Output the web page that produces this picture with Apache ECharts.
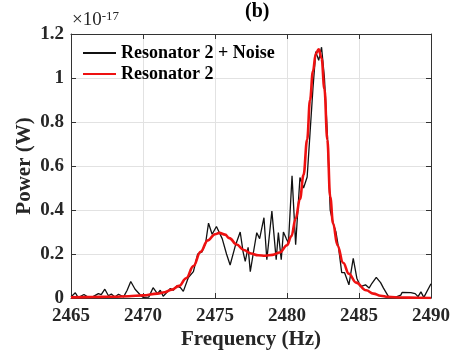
<!DOCTYPE html>
<html>
<head>
<meta charset="utf-8">
<script src="https://cdn.jsdelivr.net/npm/echarts@6/dist/echarts.min.js"></script>
<style>
html,body{margin:0;padding:0;background:#fff;}
#chart{width:453px;height:359px;}
</style>
</head>
<body>
<div id="chart"></div>
<script>
// Data (power in units of 1e-17 W)
const xTicks = [2465, 2470, 2475, 2480, 2485, 2490];
const yTicks = [0, 0.2, 0.4, 0.6, 0.8, 1, 1.2];

const noiseFreq = [2465.0,2465.3,2465.5,2465.9,2466.2,2466.5,2466.9,2467.1,2467.35,2467.6,2467.8,2468.05,2468.3,2468.65,2468.9,2469.15,2469.45,2469.8,2470.0,2470.4,2470.7,2471.0,2471.2,2471.4,2471.65,2471.9,2472.1,2472.35,2472.6,2472.8,2473.15,2473.5,2473.8,2474.1,2474.35,2474.55,2474.8,2475.1,2475.5,2475.8,2476.05,2476.4,2476.75,2476.95,2477.1,2477.3,2477.45,2477.65,2477.9,2478.1,2478.4,2478.6,2478.95,2479.25,2479.4,2479.6,2479.75,2479.95,2480.1,2480.35,2480.6,2480.9,2481.15,2481.4,2481.6,2481.8,2482.0,2482.2,2482.4,2482.6,2482.8,2483.0,2483.2,2483.4,2483.6,2483.8,2484.0,2484.3,2484.6,2484.85,2485.1,2485.45,2485.7,2485.9,2486.2,2486.5,2486.7,2487.05,2487.5,2487.9,2488.0,2488.6,2488.9,2489.1,2489.3,2489.5,2490.0];
const noisePower = [0.005,0.024,0.002,0.016,0.003,0.005,0.02,0.015,0.04,0.01,0.018,0.005,0.017,0.005,0.035,0.075,0.04,0.015,0.003,0.004,0.047,0.02,0.035,0.008,0.025,0.043,0.035,0.055,0.047,0.03,0.093,0.12,0.2,0.21,0.25,0.34,0.29,0.325,0.27,0.2,0.15,0.235,0.30,0.21,0.166,0.23,0.12,0.2,0.297,0.27,0.365,0.174,0.395,0.174,0.297,0.174,0.30,0.27,0.25,0.555,0.242,0.548,0.50,0.55,0.75,0.95,1.12,1.08,1.14,1.0,0.75,0.40,0.34,0.30,0.22,0.115,0.115,0.06,0.18,0.09,0.052,0.06,0.045,0.067,0.094,0.07,0.045,0.006,0.003,0.013,0.026,0.024,0.02,0.006,0.028,0.003,0.065];

const fitFreq = [2465,2466,2467,2468,2469,2470,2471,2471.5,2472,2472.5,2473,2473.5,2474,2474.5,2475,2475.3,2475.7,2476,2476.5,2477,2477.5,2478,2478.5,2479,2479.5,2480,2480.3,2480.6,2480.9,2481.15,2481.4,2481.6,2481.8,2482.0,2482.2,2482.4,2482.6,2482.8,2483.0,2483.2,2483.5,2483.9,2484.3,2484.8,2485.5,2486,2486.5,2487,2488,2489,2490];
const fitPower = [0.003,0.004,0.005,0.006,0.008,0.012,0.02,0.026,0.038,0.055,0.09,0.145,0.21,0.262,0.29,0.296,0.288,0.272,0.243,0.218,0.202,0.194,0.192,0.196,0.207,0.24,0.28,0.36,0.45,0.56,0.72,0.9,1.03,1.11,1.13,1.09,0.95,0.72,0.46,0.34,0.24,0.16,0.11,0.07,0.035,0.02,0.01,0.005,0.002,0.001,0];

const FONT = '"Liberation Serif","Times New Roman",serif';

const chart = echarts.init(document.getElementById('chart'));
const axisLineColor = '#333';
const gridColor = '#e2e2e2';

function yFmt(v){
  const r = Math.round(v*10)/10;
  if (r === 0) return '0';
  if (r === 1) return '1';
  return r.toFixed(1);
}

chart.setOption({
  animation: false,
  backgroundColor: '#fff',
  title: {
    text: '(b)',
    left: 245, top: 2, padding: 0,
    textStyle: {fontFamily: FONT, fontWeight: 'bold', fontSize: 20, color: '#000'}
  },
  graphic: [{
    type: 'text',
    left: 72, top: 10,
    style: {
      text: '×10{sup|-17}',
      fontFamily: FONT, fontSize: 19, fill: '#262626',
      rich: {sup: {fontFamily: FONT, fontSize: 13, verticalAlign: 'top', padding: [0,0,8,0], fill: '#262626'}}
    }
  }],
  legend: {
    orient: 'vertical',
    left: 82, top: 44,
    padding: 0,
    itemGap: 3,
    itemWidth: 33, itemHeight: 1,
    textStyle: {fontFamily: FONT, fontWeight: 'bold', fontSize: 18, color: '#000'},
    data: ['Resonator 2 + Noise', 'Resonator 2']
  },
  grid: {left: 71, right: 22, top: 34, bottom: 61, containLabel: false},
  xAxis: [{
    type: 'value', min: xTicks[0], max: xTicks[xTicks.length-1], interval: 5,
    name: 'Frequency (Hz)', nameLocation: 'middle', nameGap: 31, nameMoveOverlap: false,
    nameTextStyle: {fontFamily: FONT, fontWeight: 'bold', fontSize: 21, color: '#262626'},
    axisLine: {show: true, onZero: false, lineStyle: {color: axisLineColor, width: 1}},
    axisTick: {show: true, inside: true, length: 5, lineStyle: {color: axisLineColor}},
    axisLabel: {fontFamily: FONT, fontWeight: 'bold', fontSize: 19, color: '#262626', margin: 9, formatter: v => String(Math.round(v))},
    splitLine: {show: true, lineStyle: {color: gridColor, width: 1}}
  },{
    type: 'value', position: 'top', min: xTicks[0], max: xTicks[xTicks.length-1], interval: 5,
    axisLine: {show: true, onZero: false, lineStyle: {color: axisLineColor, width: 1}},
    axisTick: {show: true, inside: true, length: 5, lineStyle: {color: axisLineColor}},
    axisLabel: {show: false}, splitLine: {show: false}
  }],
  yAxis: [{
    type: 'value', min: yTicks[0], max: yTicks[yTicks.length-1], interval: 0.2,
    name: 'Power (W)', nameLocation: 'middle', nameGap: 36, nameMoveOverlap: false,
    nameTextStyle: {fontFamily: FONT, fontWeight: 'bold', fontSize: 21, color: '#262626'},
    axisLine: {show: true, onZero: false, lineStyle: {color: axisLineColor, width: 1}},
    axisTick: {show: true, inside: true, length: 5, lineStyle: {color: axisLineColor}},
    axisLabel: {fontFamily: FONT, fontWeight: 'bold', fontSize: 19, color: '#262626', margin: 7, formatter: yFmt},
    splitLine: {show: true, lineStyle: {color: gridColor, width: 1}}
  },{
    type: 'value', position: 'right', min: yTicks[0], max: yTicks[yTicks.length-1], interval: 0.2,
    axisLine: {show: true, onZero: false, lineStyle: {color: axisLineColor, width: 1}},
    axisTick: {show: true, inside: true, length: 5, lineStyle: {color: axisLineColor}},
    axisLabel: {show: false}, splitLine: {show: false}
  }],
  series: [{
    name: 'Resonator 2 + Noise',
    type: 'line',
    showSymbol: false, symbol: 'none',
    lineStyle: {color: '#111', width: 1.3},
    itemStyle: {color: '#111'},
    data: noiseFreq.map((f, i) => [f, noisePower[i]]),
    z: 2
  },{
    name: 'Resonator 2',
    type: 'line',
    showSymbol: false, symbol: 'none',
    smooth: 0.4, smoothMonotone: 'x',
    lineStyle: {color: '#ee1111', width: 2.6},
    itemStyle: {color: '#ee1111'},
    data: fitFreq.map((f, i) => [f, fitPower[i]]),
    z: 3
  }]
});
</script>
</body>
</html>
